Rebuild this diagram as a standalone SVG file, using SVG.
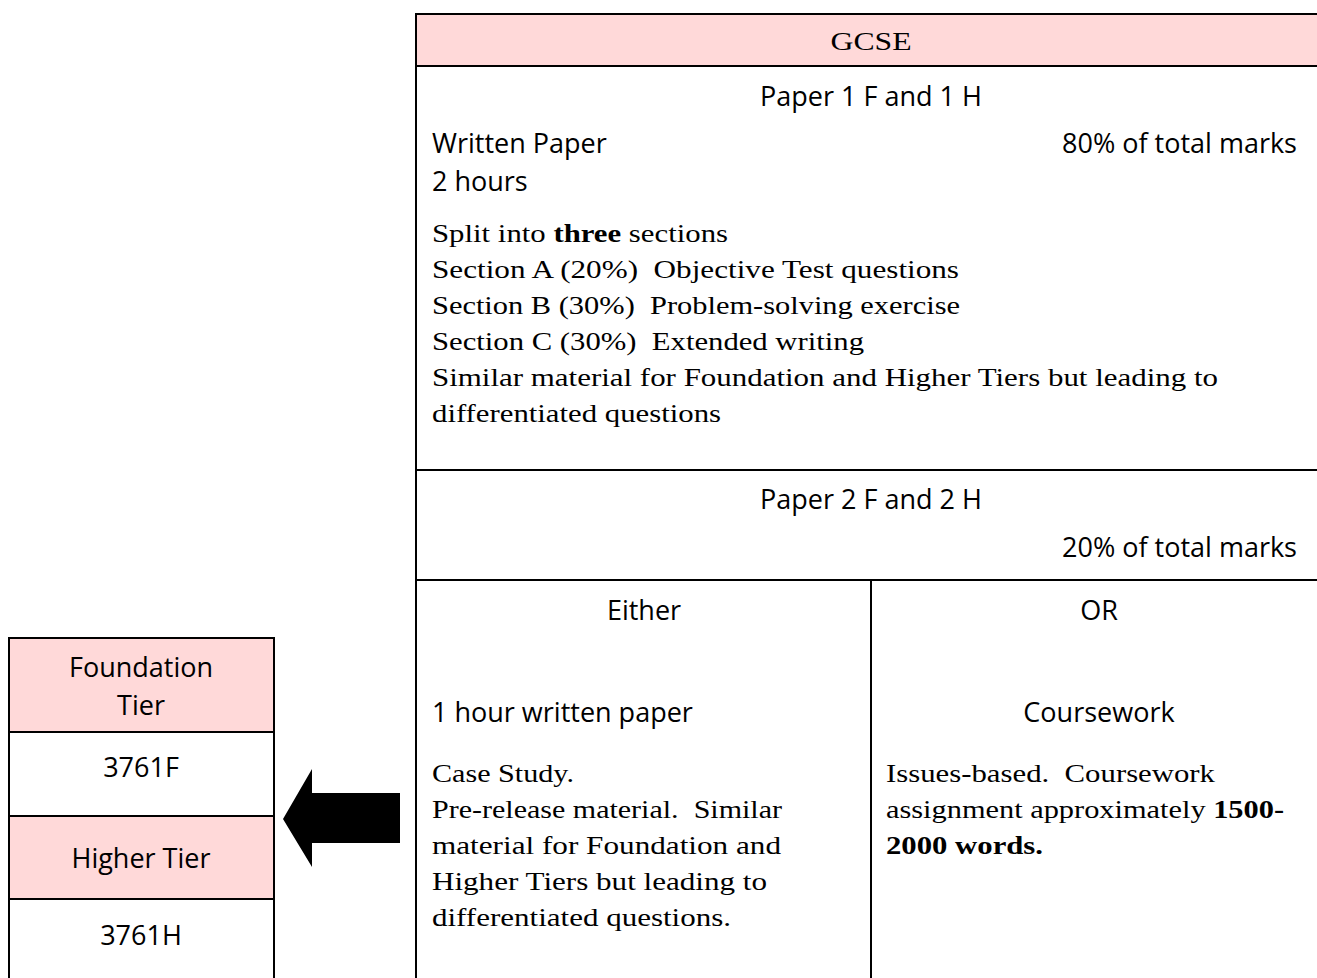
<svg xmlns="http://www.w3.org/2000/svg" width="1317" height="978" viewBox="0 0 1317 978" xml:space="preserve">
<style>
.pink{fill:#FFD9D9;stroke:none}
.ln{stroke:#000;stroke-width:2;fill:none}
.s{font-family:"Open Sans","Liberation Sans",sans-serif;font-size:27px;fill:#000;white-space:pre}
.r{font-family:"Liberation Serif","Times New Roman",serif;font-size:25px;fill:#000;white-space:pre}
.b{font-weight:bold}
.m{text-anchor:middle}
.e{text-anchor:end}
</style>
<rect width="1317" height="978" fill="#fff"/>
<g id="gcse-table">
  <rect class="pink" x="416" y="14" width="914" height="52"/>
  <line class="ln" x1="416" y1="14" x2="1330" y2="14"/>
  <line class="ln" x1="416" y1="66" x2="1330" y2="66"/>
  <line class="ln" x1="416" y1="13" x2="416" y2="978"/>
  <line class="ln" x1="416" y1="470" x2="1330" y2="470"/>
  <line class="ln" x1="416" y1="580" x2="1330" y2="580"/>
  <line class="ln" x1="871" y1="580" x2="871" y2="978"/>
</g>
<g id="gcse-header">
  <text class="r m" x="871" y="50" font-size="28" textLength="81" lengthAdjust="spacingAndGlyphs">GCSE</text>
</g>
<g id="paper1">
  <text class="s m" x="871" y="106">Paper 1 F and 1 H</text>
  <text class="s" x="432" y="153">Written Paper</text>
  <text class="s e" x="1297" y="153">80% of total marks</text>
  <text class="s" x="432" y="191">2 hours</text>
  <text class="r" x="432" y="242" textLength="296" lengthAdjust="spacingAndGlyphs">Split into <tspan class="b">three</tspan> sections</text>
  <text class="r" x="432" y="278" textLength="527" lengthAdjust="spacingAndGlyphs">Section A (20%)  Objective Test questions</text>
  <text class="r" x="432" y="314" textLength="528" lengthAdjust="spacingAndGlyphs">Section B (30%)  Problem-solving exercise</text>
  <text class="r" x="432" y="350" textLength="432" lengthAdjust="spacingAndGlyphs">Section C (30%)  Extended writing</text>
  <text class="r" x="432" y="386" textLength="786" lengthAdjust="spacingAndGlyphs">Similar material for Foundation and Higher Tiers but leading to</text>
  <text class="r" x="432" y="422" textLength="289" lengthAdjust="spacingAndGlyphs">differentiated questions</text>
</g>
<g id="paper2">
  <text class="s m" x="871" y="509">Paper 2 F and 2 H</text>
  <text class="s e" x="1297" y="557">20% of total marks</text>
</g>
<g id="either">
  <text class="s m" x="644" y="620">Either</text>
  <text class="s" x="432" y="722">1 hour written paper</text>
  <text class="r" x="432" y="782" textLength="142" lengthAdjust="spacingAndGlyphs">Case Study.</text>
  <text class="r" x="432" y="818" textLength="350" lengthAdjust="spacingAndGlyphs">Pre-release material.  Similar</text>
  <text class="r" x="432" y="854" textLength="349" lengthAdjust="spacingAndGlyphs">material for Foundation and</text>
  <text class="r" x="432" y="890" textLength="335" lengthAdjust="spacingAndGlyphs">Higher Tiers but leading to</text>
  <text class="r" x="432" y="926" textLength="299" lengthAdjust="spacingAndGlyphs">differentiated questions.</text>
</g>
<g id="or">
  <text class="s m" x="1099" y="620">OR</text>
  <text class="s m" x="1099" y="722">Coursework</text>
  <text class="r" x="886" y="782" textLength="329" lengthAdjust="spacingAndGlyphs">Issues-based.  Coursework</text>
  <text class="r" x="886" y="818" textLength="398" lengthAdjust="spacingAndGlyphs">assignment approximately <tspan class="b">1500-</tspan></text>
  <text class="r b" x="886" y="854" textLength="157" lengthAdjust="spacingAndGlyphs">2000 words.</text>
</g>
<g id="tier-table">
  <rect class="pink" x="9" y="638" width="265" height="94"/>
  <rect class="pink" x="9" y="816" width="265" height="83"/>
  <line class="ln" x1="9" y1="638" x2="274" y2="638"/>
  <line class="ln" x1="9" y1="732" x2="274" y2="732"/>
  <line class="ln" x1="9" y1="816" x2="274" y2="816"/>
  <line class="ln" x1="9" y1="899" x2="274" y2="899"/>
  <line class="ln" x1="9" y1="637" x2="9" y2="978"/>
  <line class="ln" x1="274" y1="637" x2="274" y2="978"/>
</g>
<g id="foundation-tier">
  <text class="s m" x="141" y="677">Foundation</text>
  <text class="s m" x="141" y="715">Tier</text>
</g>
<g id="code-3761F"><text class="s m" x="141" y="777">3761F</text></g>
<g id="higher-tier"><text class="s m" x="141" y="868">Higher Tier</text></g>
<g id="code-3761H"><text class="s m" x="141" y="945">3761H</text></g>
<g id="connectors">
  <polygon points="283,819 312,769 312,793 400,793 400,843 312,843 312,867" fill="#000"/>
</g>
</svg>
